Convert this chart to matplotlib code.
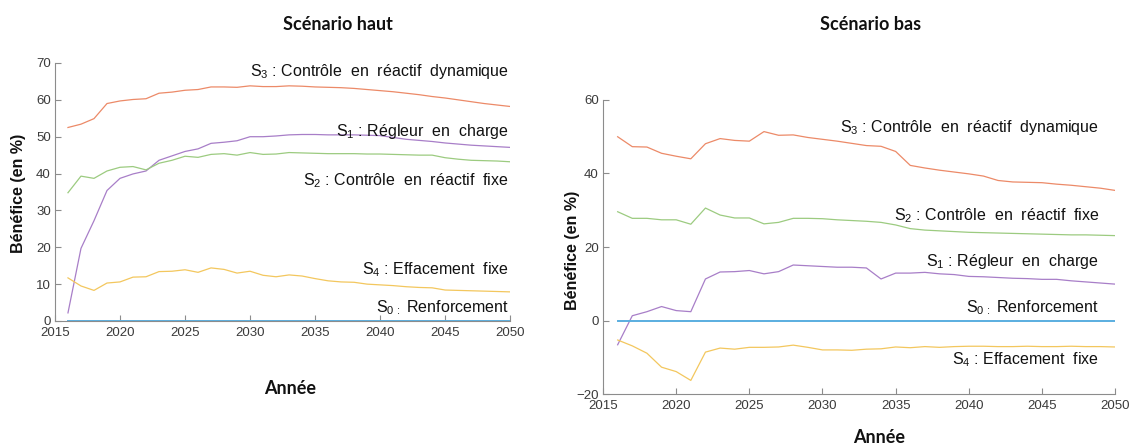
import matplotlib
matplotlib.use("Agg")
import matplotlib.pyplot as plt

plt.rcParams["mathtext.fontset"] = "custom"
plt.rcParams["mathtext.rm"] = "Liberation Sans"
plt.rcParams["mathtext.it"] = "Liberation Sans"

# ---- data ----
years = list(range(2016, 2051))

# Scénario haut
haut_s0 = [0.0] * 35
haut_s1 = [2.2, 19.7, 27.2, 35.4, 38.7, 39.9, 40.7, 43.6, 44.8, 46.0,
           46.7, 48.2, 48.5, 48.9, 50.0, 50.0, 50.2, 50.5, 50.6, 50.6,
           50.5, 50.5, 50.5, 50.4, 50.3, 49.8, 49.3, 49.0, 48.7, 48.3,
           48.0, 47.7, 47.5, 47.3, 47.1]
haut_s2 = [34.8, 39.3, 38.7, 40.7, 41.7, 41.9, 41.0, 42.8, 43.6, 44.7,
           44.4, 45.2, 45.4, 45.0, 45.7, 45.2, 45.3, 45.7, 45.6, 45.5,
           45.4, 45.4, 45.4, 45.3, 45.3, 45.2, 45.1, 45.0, 45.0, 44.3,
           43.9, 43.6, 43.5, 43.4, 43.2]
haut_s3 = [52.5, 53.4, 54.9, 59.0, 59.7, 60.1, 60.3, 61.8, 62.1, 62.6,
           62.8, 63.5, 63.5, 63.4, 63.8, 63.6, 63.6, 63.8, 63.7, 63.5,
           63.4, 63.3, 63.1, 62.8, 62.5, 62.2, 61.8, 61.4, 60.9, 60.5,
           60.0, 59.5, 59.0, 58.6, 58.2]
haut_s4 = [11.7, 9.5, 8.3, 10.3, 10.6, 11.9, 12.0, 13.4, 13.5, 13.9,
           13.2, 14.4, 14.0, 13.0, 13.5, 12.4, 12.0, 12.5, 12.2, 11.5,
           10.9, 10.6, 10.5, 10.0, 9.8, 9.6, 9.3, 9.1, 9.0, 8.4,
           8.3, 8.2, 8.1, 8.0, 7.9]

# Scénario bas
bas_s0 = [0.0] * 35
bas_s1 = [-6.6, 1.3, 2.4, 3.8, 2.7, 2.4, 11.3, 13.2, 13.3, 13.6,
          12.7, 13.3, 15.1, 14.9, 14.7, 14.5, 14.5, 14.3, 11.3, 12.9,
          12.9, 13.1, 12.7, 12.5, 12.0, 11.9, 11.7, 11.5, 11.4, 11.2,
          11.2, 10.8, 10.5, 10.2, 9.9]
bas_s2 = [29.6, 27.8, 27.8, 27.4, 27.4, 26.2, 30.6, 28.7, 27.9, 27.9,
          26.3, 26.7, 27.8, 27.8, 27.7, 27.4, 27.2, 27.0, 26.7, 26.0,
          25.0, 24.6, 24.4, 24.2, 24.0, 23.9, 23.8, 23.7, 23.6, 23.5,
          23.4, 23.3, 23.3, 23.2, 23.1]
bas_s3 = [50.0, 47.3, 47.2, 45.5, 44.7, 44.0, 48.1, 49.5, 49.0, 48.8,
          51.4, 50.4, 50.5, 49.8, 49.3, 48.8, 48.2, 47.6, 47.4, 46.0,
          42.2, 41.5, 40.9, 40.4, 39.9, 39.3, 38.1, 37.7, 37.6, 37.5,
          37.1, 36.8, 36.4, 36.0, 35.4]
bas_s4 = [-5.3, -6.9, -8.9, -12.7, -13.9, -16.3, -8.6, -7.5, -7.8, -7.3,
          -7.3, -7.2, -6.7, -7.3, -8.0, -8.0, -8.1, -7.8, -7.7, -7.2,
          -7.4, -7.1, -7.3, -7.1, -7.0, -7.0, -7.1, -7.1, -7.0, -7.1,
          -7.1, -7.0, -7.1, -7.1, -7.2]

labels = {
    "s3": r"S$_\mathregular{3}$ : Contrôle  en  réactif  dynamique",
    "s1": r"S$_\mathregular{1}$ : Régleur  en  charge",
    "s2": r"S$_\mathregular{2}$ : Contrôle  en  réactif  fixe",
    "s4": r"S$_\mathregular{4}$ : Effacement  fixe",
    "s0": r"S$_\mathregular{0\,:}$ Renforcement",
}

COLORS = {
    "s0": "#5aaee0",
    "s1": "#a87ec8",
    "s2": "#9ccb80",
    "s3": "#ec8a68",
    "s4": "#f3c75e",
}

TICK_FONT = ["Liberation Sans Narrow", "Liberation Sans", "DejaVu Sans"]


def style_axes(ax, yticks):
    for side in ("top", "right"):
        ax.spines[side].set_visible(False)
    for side in ("left", "bottom"):
        ax.spines[side].set_color("#8c8c8c")
        ax.spines[side].set_linewidth(0.8)
    ax.set_xlim(2015, 2050)
    ax.set_xticks(range(2015, 2051, 5))
    ax.set_yticks(yticks)
    ax.tick_params(direction="in", length=4, width=0.8, color="#8c8c8c",
                   labelcolor="#3a3a3a", labelsize=9.5)
    ax.tick_params(axis="x", pad=4)
    ax.tick_params(axis="y", pad=3)
    for lab in ax.get_xticklabels() + ax.get_yticklabels():
        lab.set_family(TICK_FONT)


def draw_panel(ax, series, label_y, label_x):
    s0, s1, s2, s3, s4 = series
    ax.plot(years, s3, color=COLORS["s3"], lw=0.9)
    ax.plot(years, s1, color=COLORS["s1"], lw=0.9)
    ax.plot(years, s2, color=COLORS["s2"], lw=0.9)
    ax.plot(years, s4, color=COLORS["s4"], lw=0.9)
    ax.plot(years, s0, color=COLORS["s0"], lw=1.4)
    for key, yv in label_y.items():
        ax.text(label_x, yv, labels[key], ha="right", va="center",
                fontsize=11.5, family="Liberation Sans", color="#111111")


fig = plt.figure(figsize=(11.38, 4.48), dpi=100)

# left panel: Scénario haut
ax1 = fig.add_axes([0.0483, 0.2835, 0.400, 0.5759])
draw_panel(ax1, (haut_s0, haut_s1, haut_s2, haut_s3, haut_s4),
           {"s3": 67.8, "s1": 51.3, "s2": 38.2, "s4": 13.8, "s0": 3.6}, 2049.9)
ax1.set_ylim(0, 70)
style_axes(ax1, range(0, 71, 10))

# right panel: Scénario bas
ax2 = fig.add_axes([0.5299, 0.1205, 0.450, 0.6563])
draw_panel(ax2, (bas_s0, bas_s1, bas_s2, bas_s3, bas_s4),
           {"s3": 52.4, "s2": 28.5, "s1": 16.0, "s0": 3.4, "s4": -10.6}, 2048.9)
ax2.set_ylim(-20, 60)
style_axes(ax2, range(-20, 61, 20))

# titles, axis labels (placed in figure pixels)
W, H = 1138, 448
bold_title = dict(fontsize=13, fontweight="bold", family="Lato", color="#111111",
                  ha="center", va="center")
fig.text(338 / W, 1 - 24 / H, "Scénario haut", **bold_title)
fig.text(871 / W, 1 - 24 / H, "Scénario bas", **bold_title)
fig.text(290 / W, 1 - 388 / H, "Année", **bold_title)
fig.text(879 / W, 1 - 437 / H, "Année", **bold_title)

ylab = dict(fontsize=11.5, fontweight="bold", family="Liberation Sans",
            color="#111111", rotation=90, ha="center", va="center")
fig.text(19 / W, 1 - 193 / H, "Bénéfice (en %)", **ylab)
fig.text(572 / W, 1 - 250 / H, "Bénéfice (en %)", **ylab)

fig.savefig("out.png", dpi=100, facecolor="white")
